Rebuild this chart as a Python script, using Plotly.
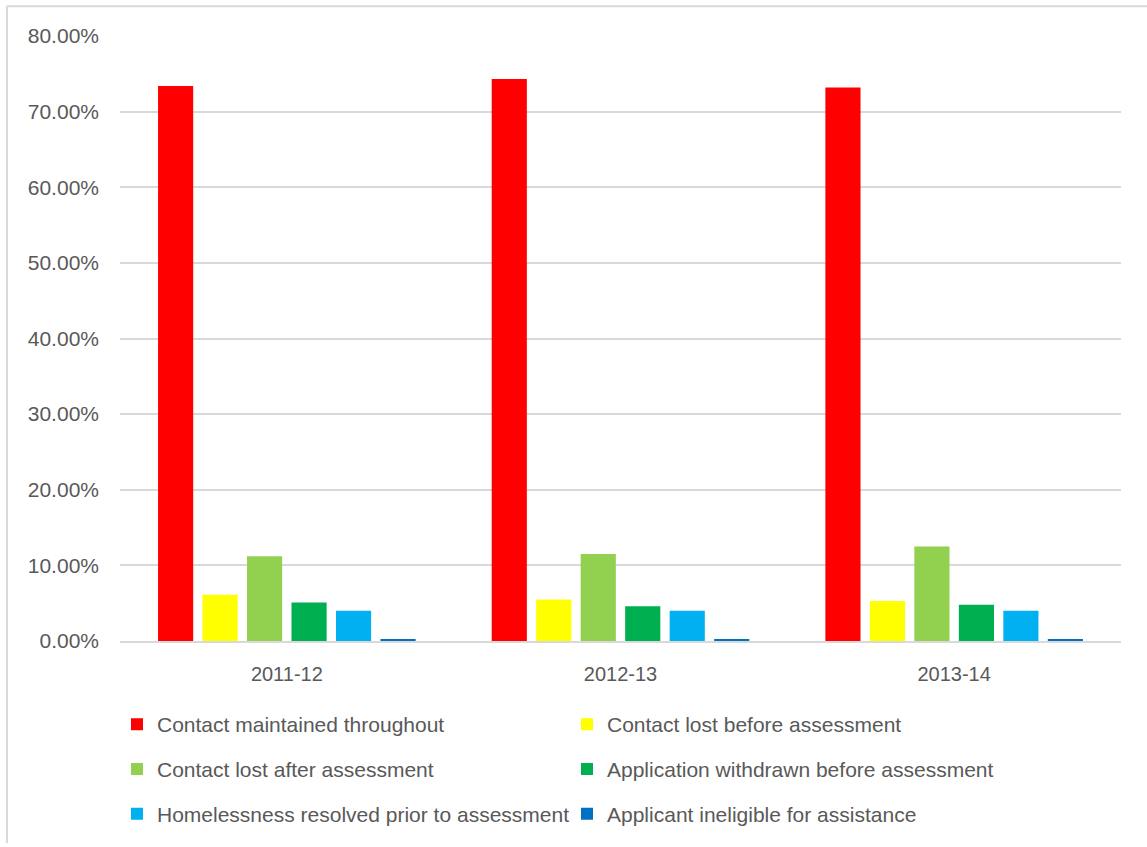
import plotly.graph_objects as go

years = ["2011-12", "2012-13", "2013-14"]
series_names = [
    "Contact maintained throughout",
    "Contact lost before assessment",
    "Contact lost after assessment",
    "Application withdrawn before assessment",
    "Homelessness resolved prior to assessment",
    "Applicant ineligible for assistance",
]
contact_maintained = [0.734, 0.743, 0.732]
contact_lost_before = [0.061, 0.055, 0.053]
contact_lost_after = [0.112, 0.115, 0.125]
withdrawn_before = [0.051, 0.046, 0.048]
resolved_prior = [0.040, 0.040, 0.040]
ineligible = [0.0026, 0.0026, 0.0022]
colors = ["#FF0000", "#FFFF00", "#92D050", "#00B050", "#00B0F0", "#0070C0"]

all_values = [contact_maintained, contact_lost_before, contact_lost_after,
              withdrawn_before, resolved_prior, ineligible]

FONT = "Liberation Sans"
TXT = "#595959"
W, H = 1147, 847
ml, mr, mt, mb = 120, 26, 36, 203
pw, ph = W - ml - mr, H - mt - mb

fig = go.Figure()
legend_ids = ["legend", "legend", "legend2", "legend2", "legend3", "legend3"]
for name, vals, col, lg in zip(series_names, all_values, colors, legend_ids):
    fig.add_trace(go.Bar(x=years, y=vals, name=name, marker_color=col,
                         marker_line_width=0, legend=lg))

def px_to_py(y):
    return (H - mb - y) / ph

def px_to_px(x):
    return (x - ml) / pw

leg_common = dict(orientation="h", xanchor="left", yanchor="middle",
                  font=dict(family=FONT, size=21, color=TXT),
                  entrywidth=405, entrywidthmode="pixels",
                  bgcolor="rgba(0,0,0,0)", itemclick=False)

fig.update_layout(
    width=W, height=H,
    margin=dict(l=ml, r=mr, t=mt, b=mb),
    paper_bgcolor="white", plot_bgcolor="white",
    barmode="group", bargap=0.2, bargroupgap=0.21,
    font=dict(family=FONT, color=TXT),
    legend=dict(x=px_to_px(117), y=px_to_py(728), **leg_common),
    legend2=dict(x=px_to_px(117), y=px_to_py(773), **leg_common),
    legend3=dict(x=px_to_px(117), y=px_to_py(818), **leg_common),
    xaxis=dict(type="category", showgrid=False, showline=True, linecolor="#d9d9d9",
               linewidth=1.5, tickfont=dict(family=FONT, size=20, color=TXT), ticks="",
               ticklabelstandoff=14),
    yaxis=dict(range=[0, 0.8], dtick=0.1, tickformat=".2%", showgrid=True,
               gridcolor="#d9d9d9", gridwidth=1.5, zeroline=False, showline=False,
               tickfont=dict(family=FONT, size=21, color=TXT), ticks="",
               ticklabelstandoff=20),
    shapes=[
        dict(type="line", xref="paper", yref="paper",
             x0=px_to_px(7), x1=px_to_px(7), y0=px_to_py(6), y1=px_to_py(847),
             line=dict(color="#d9d9d9", width=2)),
        dict(type="line", xref="paper", yref="paper",
             x0=px_to_px(7), x1=px_to_px(1147), y0=px_to_py(6), y1=px_to_py(6),
             line=dict(color="#d9d9d9", width=2)),
    ],
)

fig.write_html("out.html")
